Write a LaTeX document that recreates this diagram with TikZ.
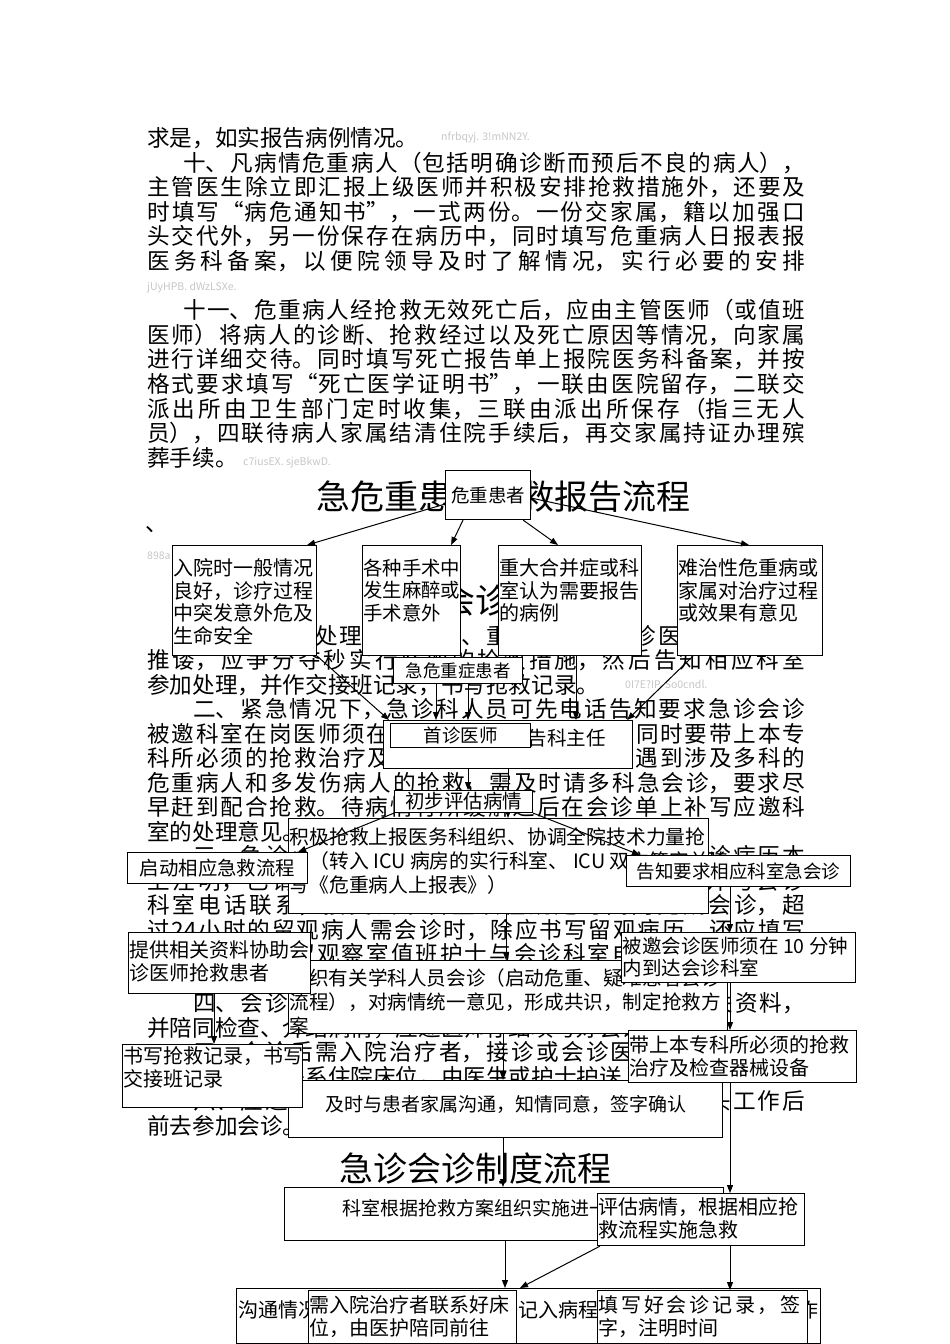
\documentclass[tikz,border=0pt]{standalone}
\usepackage{fontspec}
\setmainfont{Noto Sans CJK SC}
\usetikzlibrary{arrows.meta}
\XeTeXlinebreaklocale "zh"
\XeTeXlinebreakskip=0pt plus 4pt
\tolerance=9999
\hbadness=10000
\newcommand{\fullpar}{{\parfillskip=0pt\par}}
\tikzset{
  para/.style={anchor=north west, inner sep=0pt, text width=658pt, align=justify,
    font=\fontsize{22.6}{24.6}\selectfont,
    execute at begin node={\setlength{\parindent}{0pt}\setlength{\parskip}{0pt}}},
  heading/.style={inner sep=0pt, font=\fontsize{34}{36}\selectfont},
  wmark/.style={anchor=west, inner sep=0pt, text=black!22, font=\fontsize{10.5}{12}\selectfont}
}
\begin{document}
\begin{tikzpicture}[x=1pt, y=-1pt,
    flowbox/.style={draw, fill=white, line width=1.1pt, inner sep=0pt, anchor=north west},
    boxtext/.style={anchor=north west, align=left, inner sep=0pt, font=\fontsize{20}{22.5}\selectfont},
    arr/.style={-{Triangle[length=8pt,width=6pt]}, line width=1pt}]
  \useasboundingbox (0,0) rectangle (950,1344);
  \fill[white] (0,0) rectangle (950,1344);

  % body text behind the charts
  \node[para] (p1) at (147,127) {求是，如实报告病例情况。};
  \node[wmark] (w1) at (441,138) {nfrbqyj. 3!mNN2Y.};
  \node[para] (p2) at (147,151.6) {\hspace*{36pt}十、凡病情危重病人（包括明确诊断而预后不良的病人），\linebreak
主管医生除立即汇报上级医师并积极安排抢救措施外，还要及\linebreak
时填写“病危通知书”，一式两份。一份交家属，籍以加强口\linebreak
头交代外，另一份保存在病历中，同时填写危重病人日报表报\linebreak
医务科备案，以便院领导及时了解情况，实行必要的安排\fullpar};
  \node[wmark] (w2) at (147,288) {jUyHPB. dWzLSXe.};
  \node[para] (p3) at (147,299.2) {\hspace*{36pt}十一、危重病人经抢救无效死亡后，应由主管医师（或值班\linebreak
医师）将病人的诊断、抢救经过以及死亡原因等情况，向家属\linebreak
进行详细交待。同时填写死亡报告单上报院医务科备案，并按\linebreak
格式要求填写“死亡医学证明书”，一联由医院留存，二联交\linebreak
派出所由卫生部门定时收集，三联由派出所保存（指三无人\linebreak
员），四联待病人家属结清住院手续后，再交家属持证办理殡\linebreak
葬手续。};
  \node[wmark] (w3) at (243,463) {c7iusEX. sjeBkwD.};
  \node[heading] (h1) at (503,497) {急危重患者抢救报告流程};
  \node[anchor=base west, inner sep=0pt, font=\fontsize{22.6}{24.6}\selectfont] (dot) at (145,531) {、};
  \node[wmark] (w4) at (147,556) {898a};
  \node[heading] (h2) at (475,600) {急诊会诊制度};
  \node[para, font=\fontsize{22.6}{24.5}\selectfont] (p4) at (147,625) {\hspace*{46pt}一、急诊科处理中遇疑难、重危病人，首诊医师不得互相\linebreak
推诿，应争分夺秒实行必要的抢救措施，然后告知相应科室\linebreak
参加处理，并作交接班记录，书写抢救记录。\par
\hspace*{46pt}二、紧急情况下，急诊科人员可先电话告知要求急诊会诊\linebreak
被邀科室在岗医师须在10分钟内到达会诊室，同时要带上本专\linebreak
科所必须的抢救治疗及检查器械设备等物品。遇到涉及多科的\linebreak
危重病人和多发伤病人的抢救，需及时请多科急会诊，要求尽\linebreak
早赶到配合抢救。待病情有所缓解之后在会诊单上补写应邀科\linebreak
室的处理意见。\par
\hspace*{46pt}三、急诊病人需请他科会诊时，由首诊医师在急诊病历本\linebreak
上注明，已请有关科室会诊，同时由值班护士通知并与会诊\linebreak
科室电话联系，接受会诊科室须在规定时间内完成会诊，超\linebreak
过24小时的留观病人需会诊时，除应书写留观病历，还应填写\linebreak
会诊单后，由留观察室值班护士与会诊科室电话联系，请求会\linebreak
诊医师及时到达。\par
\hspace*{46pt}四、会诊时，申请会诊的医师应准备好病历及有关资料，\linebreak
并陪同检查、介绍病情，应邀医师仔细填写好会诊单。\par
\hspace*{46pt}五、会诊后需入院治疗者，接诊或会诊医师开具入院证，\linebreak
应及时与病房联系住院床位，由医生或护士护送入院。\par
\hspace*{46pt}六、应邀医师接到会诊通知后，应立即安排好手头工作后\linebreak
前去参加会诊。};
  \node[wmark] (w5) at (625,684) {0I7E?IP. So0cndl.};
  \node[heading] (h3) at (475,1168) {急诊会诊制度流程};

  % first chart
  \node[flowbox, minimum width=85pt, minimum height=49pt, font=\fontsize{18.5}{20}\selectfont] (b1) at (445,470) {危重患者};
  \node[flowbox, minimum width=144pt, minimum height=110pt] (b2) at (172,545) {};
  \node[boxtext] (b2t) at ([xshift=1.5pt,yshift=-13.5pt]b2.north west) {入院时一般情况\\良好，诊疗过程\\中突发意外危及\\生命安全};
  \node[flowbox, minimum width=98pt, minimum height=110pt] (b3) at (362,545) {};
  \node[boxtext, font=\fontsize{19.4}{22.5}\selectfont] (b3t) at ([xshift=1pt,yshift=-13.5pt]b3.north west) {各种手术中\\发生麻醉或\\手术意外};
  \node[flowbox, minimum width=143pt, minimum height=110pt] (b4) at (498,545) {};
  \node[boxtext] (b4t) at ([xshift=1.5pt,yshift=-13.5pt]b4.north west) {重大合并症或科\\室认为需要报告\\的病例};
  \node[flowbox, minimum width=145pt, minimum height=110pt] (b5) at (677,545) {};
  \node[boxtext] (b5t) at ([xshift=1.5pt,yshift=-13.5pt]b5.north west) {难治性危重病或\\家属对治疗过程\\或效果有意见};
  \draw[arr] ([yshift=-9pt]b1.west) -- ([xshift=-10pt]b2.north east);
  \draw[arr] ([xshift=18pt]b1.south west) -- ([xshift=-10pt]b3.north east);
  \draw[arr] ([xshift=-8pt]b1.south east) -- ([xshift=60pt]b4.north west);
  \draw[arr] ([yshift=-3pt]b1.east) -- ([xshift=72pt]b5.north west);

  \node[flowbox, minimum width=249pt, minimum height=48pt] (b7) at (383,720) {};
  \node[boxtext, anchor=west, font=\fontsize{19.5}{20}\selectfont] (b7t) at ([xshift=8pt,yshift=6pt]b7.west) {首诊医师立即报告科主任};
  \draw[arr] (b2.south east) -- ([xshift=6pt]b7.north west);
  \draw[arr] ([xshift=74pt]b3.south west) -- ([xshift=53pt]b7.north west);
  \draw[arr] ([xshift=78pt]b4.south west) -- ([xshift=193pt]b7.north west);
  \draw[arr] ([xshift=16pt]b5.south west) -- ([xshift=-6pt]b7.north east);
  \node[flowbox, minimum width=129pt, minimum height=26pt, font=\fontsize{17.5}{20}\selectfont] (b6) at (393,657) {急危重症患者};
  \draw[arr] ([xshift=75pt]b6.south west) -- ([xshift=85pt]b7.north west);
  \node[flowbox, minimum width=140pt, minimum height=24pt, font=\fontsize{18.5}{20}\selectfont] (b8) at (390,723) {首诊医师};

  \node[flowbox, minimum width=420pt, minimum height=95pt] (b10) at (288,818) {};
  \node[boxtext, font=\fontsize{19.8}{24}\selectfont] (b10t) at ([xshift=1.5pt,yshift=-9.5pt]b10.north west) {积极抢救上报医务科组织、协调全院技术力量抢\\救（转入 ICU 病房的实行科室、 ICU 双方签字并填\\写《危重病人上报表》）};
  \draw[arr] ([xshift=125pt]b7.south west) -- ([xshift=220pt]b10.north west);
  \node[flowbox, minimum width=138pt, minimum height=22pt, font=\fontsize{19.5}{20}\selectfont] (b9) at (394,790) {初步评估病情};
  \draw[arr] ([xshift=85pt]b7.south west) -- ([xshift=74pt]b9.north west);
  \node[flowbox, minimum width=180pt, minimum height=31pt, font=\fontsize{19.4}{20}\selectfont] (b11) at (127,852) {启动相应急救流程};
  \node[flowbox, minimum width=224pt, minimum height=31pt, font=\fontsize{18.5}{20}\selectfont] (b12) at (626,855) {告知要求相应科室急会诊};
  \draw[arr] (b9.south west) -- ([xshift=-10pt]b11.north east);
  \draw[arr] (b9.south east) -- ([xshift=14pt]b12.north west);

  \node[flowbox, minimum width=439pt, minimum height=73pt] (b15) at (288,960) {};
  \node[boxtext, font=\fontsize{19.6}{24}\selectfont] (b15t) at ([xshift=1.5pt,yshift=-8.5pt]b15.north west) {组织有关学科人员会诊（启动危重、疑难患者会诊\\流程），对病情统一意见，形成共识，制定抢救方\\案};
  \node[flowbox, minimum width=182pt, minimum height=61pt] (b13) at (128,932) {};
  \node[boxtext] (b13t) at ([xshift=1pt,yshift=-8.5pt]b13.north west) {提供相关资料协助会\\诊医师抢救患者};
  \node[flowbox, minimum width=234pt, minimum height=50pt] (b14) at (621,932) {};
  \node[boxtext, font=\fontsize{19.5}{22.5}\selectfont] (b14t) at ([xshift=1.5pt,yshift=-4.5pt]b14.north west) {被邀会诊医师须在 10 分钟\\内到达会诊科室};
  \node[flowbox, minimum width=434pt, minimum height=57pt] (b18) at (288,1080) {};
  \node[boxtext, anchor=center, font=\fontsize{19}{20}\selectfont] (b18t) at ([yshift=5pt]b18.center) {及时与患者家属沟通，知情同意，签字确认};
  \node[flowbox, minimum width=228pt, minimum height=52pt] (b16) at (628,1030) {};
  \node[boxtext] (b16t) at ([xshift=1.5pt,yshift=-5.5pt]b16.north west) {带上本专科所必须的抢救\\治疗及检查器械设备};
  \node[flowbox, minimum width=180pt, minimum height=63pt] (b17) at (122,1044) {};
  \node[boxtext] (b17t) at ([xshift=1pt,yshift=-2.5pt]b17.north west) {书写抢救记录，书写\\交接班记录};
  \draw[arr] ([xshift=218pt]b10.south west) -- ([xshift=218pt]b15.north west);
  \draw[arr] ([xshift=215pt]b15.south west) -- ([xshift=215pt]b18.north west);
  \draw[arr] ([xshift=104pt]b12.south west) -- ([xshift=109pt]b14.north west);
  \draw[arr] ([xshift=109pt]b14.south west) -- ([xshift=102pt]b16.north west);
  \draw[arr] ([xshift=86pt]b13.south west) -- ([xshift=92pt]b17.north west);

  % second chart
  \node[flowbox, minimum width=439pt, minimum height=53pt] (b19) at (284,1187) {};
  \node[boxtext, anchor=center, font=\fontsize{19}{20}\selectfont] (b19t) at ([yshift=6pt]b19.center) {科室根据抢救方案组织实施进一步抢救};
  \node[flowbox, minimum width=207pt, minimum height=52pt] (b20) at (597,1193) {};
  \node[boxtext] (b20t) at ([xshift=1.5pt,yshift=-4.5pt]b20.north west) {评估病情，根据相应抢\\救流程实施急救};
  \draw[arr] ([xshift=215pt]b18.south west) -- ([xshift=219pt]b19.north west);
  \draw[arr] ([xshift=102pt]b16.south west) -- ([xshift=133pt]b20.north west);

  \node[flowbox, minimum width=584pt, minimum height=55pt] (b21) at (236,1288) {};
  \node[boxtext] (b21t) at ([xshift=2pt,yshift=-12.5pt]b21.north west) {沟通情况抢救经过及会诊意见等记入病程记录，并做好交接班工作};
  \node[flowbox, minimum width=208pt, minimum height=53pt] (b22) at (308,1290) {};
  \node[boxtext] (b22t) at ([xshift=1.5pt,yshift=-5.5pt]b22.north west) {需入院治疗者联系好床\\位，由医护陪同前往};
  \node[flowbox, minimum width=210pt, minimum height=53pt] (b23) at (597,1290) {};
  \node[boxtext] (b23t) at ([xshift=1.5pt,yshift=-5.5pt]b23.north west) {\makebox[202pt][s]{填\hfill 写\hfill 好\hfill 会\hfill 诊\hfill 记\hfill 录\hfill ，\hfill 签}\\字，注明时间};
  \draw[arr] ([xshift=221pt]b19.south west) -- ([xshift=269pt]b21.north west);
  \draw[arr] ([xshift=3pt]b20.south west) -- ([xshift=284pt]b21.north west);
  \draw[arr] ([xshift=133pt]b20.south west) -- ([xshift=133pt]b23.north west);
\end{tikzpicture}
\end{document}
